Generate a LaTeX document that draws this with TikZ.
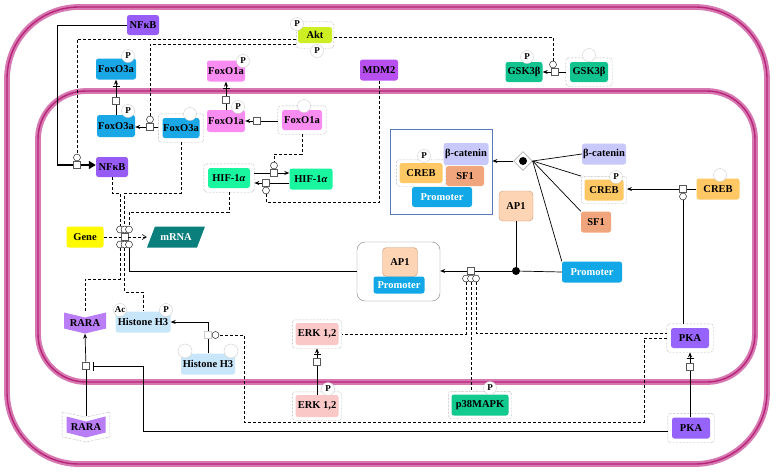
\documentclass[tikz,border=0pt]{standalone}
\usepackage{fontspec}
\setmainfont{Liberation Serif}
\usetikzlibrary{positioning}
\usetikzlibrary{shapes.geometric, arrows.meta, fit}

\definecolor{memout}{RGB}{215,120,178}
\definecolor{memin}{RGB}{182,38,118}
\definecolor{nfkbc}{RGB}{150,92,245}
\definecolor{aktc}{RGB}{204,238,34}
\definecolor{foxo3c}{RGB}{26,167,230}
\definecolor{foxo1c}{RGB}{248,140,240}
\definecolor{mdm2c}{RGB}{184,80,240}
\definecolor{gskc}{RGB}{16,195,143}
\definecolor{hifc}{RGB}{26,245,160}
\definecolor{crebc}{RGB}{255,200,101}
\definecolor{catc}{RGB}{200,200,250}
\definecolor{sf1c}{RGB}{240,165,124}
\definecolor{promc}{RGB}{18,168,232}
\definecolor{ap1c}{RGB}{253,213,181}
\definecolor{ap1d}{RGB}{205,150,115}
\definecolor{genec}{RGB}{255,250,0}
\definecolor{mrnac}{RGB}{11,127,124}
\definecolor{histc}{RGB}{200,230,250}
\definecolor{rarac}{RGB}{185,125,245}
\definecolor{erkc}{RGB}{251,200,200}
\definecolor{p38c}{RGB}{18,201,142}
\definecolor{pkac}{RGB}{150,100,250}
\definecolor{cplxc}{RGB}{90,120,190}

\begin{document}
\begin{tikzpicture}[x=1pt,y=-1pt]
    \tikzset{base/.style = {rectangle, rounded corners=2.5pt, minimum width=38pt,
                           minimum height=21pt, inner sep=0pt, text centered,
                           font=\bfseries\fontsize{10.5}{12}\selectfont}}
    \tikzset{dotbox/.style = {rectangle, rounded corners=3pt, draw=gray, densely dotted, inner sep=4pt}}
    \tikzset{pstate/.style = {circle, draw=gray!40, fill=white, minimum size=13pt, inner sep=0pt,
                             font=\bfseries\fontsize{9}{9}\selectfont}}
    \tikzset{proc/.style = {rectangle, draw=gray!70!black, fill=white, minimum size=7pt, inner sep=0pt}}
    \tikzset{modc/.style = {circle, draw=black, fill=white, minimum size=7pt, inner sep=0pt}}
    \tikzset{conv/.style = {line width=0.7pt}}
    \tikzset{mod/.style = {line width=0.6pt, dash pattern=on 3pt off 2pt}}
    \tikzset{transl/.style = {-{Bar[width=7pt,sep=1pt]Stealth[length=5pt,width=4pt]}}}
    \tikzset{membrane/.style = {draw=memout, line width=2.2pt, double=memin, double distance=1.4pt}}
    \tikzset{receptor/.style = {base, rounded corners=0pt,
        path picture={\fill[rarac] (path picture bounding box.north west)
            -- ([yshift=-5pt]path picture bounding box.north) -- (path picture bounding box.north east)
            -- ([yshift=5pt]path picture bounding box.south east) -- (path picture bounding box.south)
            -- ([yshift=5pt]path picture bounding box.south west) -- cycle;}}}
    \tikzset{>={Stealth[length=5pt,width=4pt]}}

    \fill[white] (0,0) rectangle (781,472);
    \useasboundingbox (0,0) rectangle (781,472);

    % cell and nucleus
    \draw[membrane, rounded corners=72pt] (7,7) rectangle (767,464);
    \draw[membrane, rounded corners=48pt] (38,91) rectangle (755,382);

    % cytoplasm
    \node (nfkbC) [base, fill=nfkbc, minimum width=32pt, minimum height=20pt] at (143,25) {NFκB};
    \node (akt) [base, fill=aktc, minimum width=34pt, minimum height=16pt] at (315,35) {Akt};
    \node (aktX) [dotbox, inner xsep=1.5pt, inner ysep=5pt, fit=(akt)] {};
    \node (aktP1) [pstate] at (297,24) {P};
    \node (aktP2) [pstate] at (317,51) {P};
    \node (foxo3aC) [base, fill=foxo3c, minimum width=40pt] at (116,69) {FoxO3a};
    \node (foxo3aCp) [pstate] at (128,56) {P};
    \node (foxo1aC) [base, fill=foxo1c] at (226,71) {FoxO1a};
    \node (foxo1aCp) [pstate] at (243,61) {P};
    \node (mdm2) [base, fill=mdm2c] at (379,70) {MDM2};
    \node (gskP) [base, fill=gskc, minimum width=37pt, minimum height=20pt] at (524,72) {GSK3β};
    \node (gskPp) [pstate] at (527,57) {P};
    \node (gsk) [base, fill=gskc, minimum height=20pt] at (589,72) {GSK3β};
    \node (gskX) [dotbox, fit=(gsk)] {};
    \node (gske) [pstate] at (589,55) {};

    % nucleus
    \node (foxo3aP) [base, fill=foxo3c, minimum height=22pt] at (116,126) {FoxO3a};
    \node (foxo3aPp) [pstate] at (128,111) {P};
    \node (foxo3a) [base, fill=foxo3c, minimum width=37pt, minimum height=20pt] at (181,128) {FoxO3a};
    \node (foxo3aX) [dotbox, fit=(foxo3a)] {};
    \node (foxo3ae) [pstate] at (190,114) {};
    \node (foxo1aP) [base, fill=foxo1c, minimum height=22pt] at (226,121) {FoxO1a};
    \node (foxo1aPp) [pstate] at (238,107) {P};
    \node (foxo1a) [base, fill=foxo1c, minimum width=40pt, minimum height=20pt] at (302,120) {FoxO1a};
    \node (foxo1aX) [dotbox, fit=(foxo1a)] {};
    \node (foxo1ae) [pstate] at (304,106) {};
    \node (nfkbN) [base, fill=nfkbc, minimum width=32pt, minimum height=20pt] at (112,167) {NFκB};
    \node (hifL) [base, fill=hifc, minimum width=42pt, minimum height=20pt] at (229,178) {HIF-1\textit{α}};
    \node (hifLX) [dotbox, fit=(hifL)] {};
    \node (hifR) [base, fill=hifc, minimum width=43pt] at (311,179) {HIF-1\textit{α}};

    \node (cplx) [rectangle, draw=cplxc, line width=0.8pt, minimum width=102pt, minimum height=85pt] at (441,171.5) {};
    \node (crebIn) [base, fill=crebc, minimum width=43pt, minimum height=20pt] at (421,173) {CREB};
    \node (crebInX) [dotbox, inner sep=3pt, fit=(crebIn)] {};
    \node (crebInp) [pstate] at (424,156) {P};
    \node (catIn) [base, fill=catc, minimum width=45pt, minimum height=22pt] at (466,154) {β-catenin};
    \node (sf1In) [base, fill=sf1c, minimum height=20pt] at (465,176) {SF1};
    \node (promIn) [base, fill=promc, text=white, minimum width=60pt, minimum height=20pt] at (442,197) {Promoter};
    \node (assoc) [diamond, draw=gray, minimum size=19pt, inner sep=0pt, fill=white,
                   path picture={\fill[black] (path picture bounding box.center) circle (4pt);}] at (523,161) {};
    \node (cat) [base, fill=catc, minimum width=44pt] at (604,154) {β-catenin};
    \node (crebP) [base, fill=crebc, minimum width=39pt] at (604,190) {CREB};
    \node (crebPX) [dotbox, inner sep=3pt, fit=(crebP)] {};
    \node (crebPp) [pstate] at (616,177) {P};
    \node (sf1) [base, fill=sf1c, minimum width=30pt] at (596,222) {SF1};
    \node (creb) [base, fill=crebc, minimum width=43pt] at (718,189) {CREB};
    \node (crebe) [pstate] at (720,175) {};
    \node (ap1) [base, fill=ap1c, draw=ap1d, rounded corners=4pt, minimum width=34pt, minimum height=30pt] at (516,206) {AP1};
    \node (prom) [base, fill=promc, text=white, minimum width=60pt] at (592,272) {Promoter};
    \node (ap1cx) [rectangle, rounded corners=8pt, draw=gray, minimum width=83pt, minimum height=59pt] at (398.5,271.5) {};
    \node (ap1In) [base, fill=ap1c, draw=ap1d, rounded corners=4pt, minimum width=35pt, minimum height=29pt] at (400,262) {AP1};
    \node (promIn2) [base, fill=promc, text=white, minimum width=51pt, minimum height=17pt] at (399,285) {Promoter};

    \node (gene) [base, fill=genec, minimum width=37pt] at (85,237) {Gene};
    \node (mrna) [base, rounded corners=0pt, minimum width=58pt, text=white,
                  path picture={\fill[mrnac] ([xshift=8pt]path picture bounding box.north west)
                      -- (path picture bounding box.north east) -- ([xshift=-8pt]path picture bounding box.south east)
                      -- (path picture bounding box.south west) -- cycle;}] at (176,237) {mRNA};
    \node (histP) [base, fill=histc, minimum width=55pt] at (143,322) {Histone H3};
    \node (histPac) [pstate] at (120,310) {Ac};
    \node (histPp) [pstate] at (166,310) {P};
    \node (hist) [base, fill=histc, minimum width=54pt] at (208,364) {Histone H3};
    \node (histe1) [pstate, minimum size=14pt] at (185,351) {};
    \node (histe2) [pstate, minimum size=14pt] at (231,351) {};
    \node (raraN) [receptor, minimum width=42pt] at (85,323) {RARA};
    \node (rara) [receptor, minimum width=39pt] at (86,427) {RARA};
    \node (raraX) [inner sep=4pt, fit=(rara)] {};
    \draw[gray, densely dotted] (raraX.north west) -- ([yshift=-5pt]raraX.north) -- (raraX.north east)
        -- ([yshift=5pt]raraX.south east) -- (raraX.south) -- ([yshift=5pt]raraX.south west) -- cycle;
    \node (erkN) [base, fill=erkc, minimum width=43pt, minimum height=22pt] at (317,334) {ERK 1,2};
    \node (erkNX) [dotbox, inner sep=3pt, fit=(erkN)] {};
    \node (erkP) [base, fill=erkc, minimum width=43pt, minimum height=22pt] at (317,406) {ERK 1,2};
    \node (erkPX) [dotbox, inner sep=3pt, fit=(erkP)] {};
    \node (erkPp) [pstate] at (328,389) {P};
    \node (p38) [base, fill=p38c, minimum width=57pt] at (480,405) {p38MAPK};
    \node (p38X) [dotbox, inner sep=3pt, fit=(p38)] {};
    \node (p38p) [pstate] at (490,388) {P};
    \node (pkaN) [base, fill=pkac, minimum height=20pt] at (690,338) {PKA};
    \node (pkaNX) [dotbox, fit=(pkaN)] {};
    \node (pka) [base, fill=pkac] at (691,428) {PKA};
    \node (pkaX) [dotbox, fit=(pka)] {};

    % processes
    \node (p1) [proc] at (150,127) {};
    \node (c1) [modc] at (150,119.5) {};
    \node (p2) [proc] at (116,101) {};
    \node (p3) [proc] at (257,121) {};
    \node (p4) [proc] at (226,100) {};
    \node (p5) [proc] at (555,72) {};
    \node (c5) [modc] at (553,64.5) {};
    \node (p6) [proc] at (77,165) {};
    \node (c6) [modc] at (77,157.5) {};
    \node (p7) [proc] at (274,173) {};
    \node (c7) [modc] at (274,165.5) {};
    \node (p8) [proc] at (266,183) {};
    \node (c8) [modc] at (266,190.5) {};
    \node (p9) [proc] at (124.5,237) {};
    \node (c9a) [modc] at (120,229.5) {};
    \node (c9b) [modc] at (124.5,229.5) {};
    \node (c9c) [modc] at (129,229.5) {};
    \node (c9d) [modc] at (120,244.5) {};
    \node (c9e) [modc] at (124.5,244.5) {};
    \node (c9f) [modc] at (129,244.5) {};
    \node (p10) [proc] at (683,189) {};
    \node (c10) [modc] at (683,196.5) {};
    \node (p11) [proc] at (471,271) {};
    \node (c11a) [modc] at (466,278.5) {};
    \node (c11b) [modc] at (471,278.5) {};
    \node (c11c) [modc] at (476,278.5) {};
    \node (dot) [circle, fill=black, minimum size=8pt, inner sep=0pt] at (516,271) {};
    \node (p12) [proc, draw=gray!40] at (208,335) {};
    \node (c12) [modc] at (215.5,335) {};
    \node (p13) [proc] at (86,366) {};
    \node (p14) [proc] at (317,362) {};
    \node (p15) [proc] at (690,367) {};
    \coordinate (nb) at (57,165);
    \coordinate (h1) at (644,422);
    \coordinate (h2) at (244,335);
    \coordinate (r1) at (143,366);

    % transitions
    \draw[conv] (foxo3aX.west |- p1) -- (p1);
    \draw[conv, ->] (p1) -- (foxo3aP.east |- p1);
    \draw[conv] (foxo3aP) -- (p2);
    \draw[conv, transl] (p2) -- (foxo3aC);
    \draw[conv] (foxo1aX.west |- p3) -- (p3);
    \draw[conv, ->] (p3) -- (foxo1aP.east |- p3);
    \draw[conv] (foxo1aP) -- (p4);
    \draw[conv, transl] (p4) -- (foxo1aC);
    \draw[conv] (gskX.west |- p5) -- (p5);
    \draw[conv, ->] (p5) -- (gskP.east |- p5);
    \draw[conv] (nfkbC.west) -| (nb);
    \draw[line width=1.6pt] (nb) -- (p6);
    \draw[line width=1.6pt, -{Triangle[length=7pt,width=8pt]}] (p6) -- (nfkbN.west |- p6);
    \draw[line width=0.9pt] (hifLX.east |- p7) -- (p7);
    \draw[line width=0.9pt, ->] (p7) -- (hifR.west |- p7);
    \draw[line width=0.9pt] (hifR.west |- p8) -- (p8);
    \draw[line width=0.9pt, ->] (p8) -- (hifLX.east |- p8);
    \draw[conv] (creb) -- (p10);
    \draw[conv, ->] (p10) -- (crebPX.east |- p10);
    \draw[conv] (rara.north) -- (p13);
    \draw[conv, ->] (p13) -- (raraN.south);
    \draw[conv] (erkP.north) -- (p14);
    \draw[conv, transl] (p14) -- (erkNX.south);
    \draw[conv] (p15 |- pka.north) -- (p15);
    \draw[conv, transl] (p15) -- (pkaNX.south);
    \draw[conv] (hist) -- (p12);
    \draw[conv, ->] (p12) |- (histP.east);
    \draw[conv] (prom.west) -- (dot);
    \draw[conv] (ap1) -- (dot);
    \draw[conv] (dot) -- (p11);
    \draw[conv, ->] (p11) -- (ap1cx.east |- p11);
    \draw[conv] (cat.west) -- (assoc.east);
    \draw[conv] (crebPX.north west) -- (assoc.east);
    \draw[conv] (sf1.north west) -- (assoc.east);
    \draw[conv] (prom.north west) -- (assoc.east);
    \draw[conv, ->] (assoc.west) -- (cplx.east |- assoc);
    \draw[mod] (gene) -- (p9);
    \draw[mod, -{Straight Barb[length=4pt,width=5pt]}] (p9) -- (mrna.west);

    % modulations
    \draw[mod] ([yshift=-4pt]aktX.west) -| (c6);
    \draw[mod] ([yshift=-9pt]aktX.west) -| (c1);
    \draw[mod] ([yshift=-2pt]aktX.east) -| (c5);
    \draw[mod] (foxo1aX.south) -- ++(0,20) -| (c7);
    \draw[mod] (mdm2) |- ([yshift=-12pt]c8.center) -- (c8);
    \draw[mod] (nfkbN.south) -- ++(0,16) -| (c9a);
    \draw[mod] (foxo3aX.south) -- ++(0,51) -| (c9b);
    \draw[mod] (hifLX.south) -- ++(0,20) -| (c9c);
    \draw[mod] (c9d.south) -- ++(0,31) -| (raraN.north);
    \draw[mod] (c9e.south) -- ++(0,44) -| (histP.north);
    \draw[conv] (c9f.south) |- (ap1cx.west);
    \draw[mod] (c11a.south) |- (erkNX.east);
    \draw[mod] (c11b.south) -- (c11b |- p38X.north);
    \draw[mod] (c11c.south) |- ([yshift=5pt]pkaNX.west);
    \draw[mod] (pkaNX.west) -| (h1) -| (h2) -- (c12);
    \draw[conv] (c10 |- pkaNX.north) -- (c10);
    \draw[conv, -{Bar[width=9pt]}] ([yshift=-3pt]pkaX.west) -| (r1) -- ([xshift=3pt]p13.east);

\end{tikzpicture}
\end{document}
